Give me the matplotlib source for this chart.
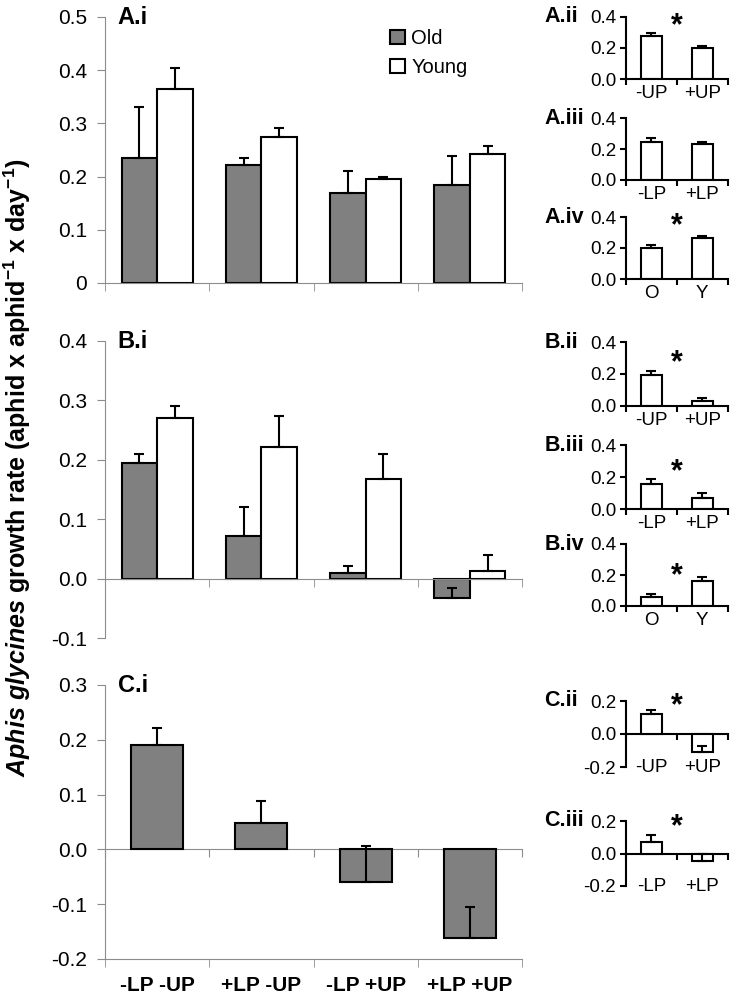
"""Aphis glycines growth rate: main treatment bars (A.i, B.i, C.i) with
small marginal-effect panels on the right."""
import matplotlib
matplotlib.use("Agg")
import matplotlib.pyplot as plt

plt.rcParams["font.family"] = ["Liberation Sans", "DejaVu Sans"]
plt.rcParams["mathtext.fontset"] = "custom"
plt.rcParams["mathtext.rm"] = "Liberation Sans:bold"
plt.rcParams["mathtext.it"] = "Liberation Sans:italic:bold"
plt.rcParams["mathtext.bf"] = "Liberation Sans:bold"
plt.rcParams["mathtext.default"] = "rm"

# ---- data ---------------------------------------------------------------
treatments = ["-LP -UP", "+LP -UP", "-LP +UP", "+LP +UP"]

a_old = [0.235, 0.221, 0.170, 0.185]
a_old_se = [0.096, 0.014, 0.040, 0.054]
a_young = [0.365, 0.274, 0.196, 0.243]
a_young_se = [0.040, 0.018, 0.004, 0.015]

b_old = [0.194, 0.072, 0.010, -0.032]
b_old_se = [0.015, 0.049, 0.012, 0.016]
b_young = [0.270, 0.222, 0.168, 0.013]
b_young_se = [0.020, 0.051, 0.041, 0.026]

c_vals = [0.191, 0.049, -0.059, -0.161]
c_se = [0.030, 0.040, 0.065, 0.055]

a_ticks = [0, 0.1, 0.2, 0.3, 0.4, 0.5]
a_ticklabels = ["0", "0.1", "0.2", "0.3", "0.4", "0.5"]
b_ticks = [-0.1, 0.0, 0.1, 0.2, 0.3, 0.4]
b_ticklabels = ["-0.1", "0.0", "0.1", "0.2", "0.3", "0.4"]
c_ticks = [-0.2, -0.1, 0.0, 0.1, 0.2, 0.3]
c_ticklabels = ["-0.2", "-0.1", "0.0", "0.1", "0.2", "0.3"]

small_pos_ticks = [0.0, 0.2, 0.4]
small_pos_labels = ["0.0", "0.2", "0.4"]
small_neg_ticks = [-0.2, 0.0, 0.2]
small_neg_labels = ["-0.2", "0.0", "0.2"]

up_cats = ["-UP", "+UP"]
lp_cats = ["-LP", "+LP"]
age_cats = ["O", "Y"]

a_ii = [0.275, 0.198];  a_ii_se = [0.020, 0.018]
a_iii = [0.245, 0.232]; a_iii_se = [0.025, 0.014]
a_iv = [0.202, 0.266];  a_iv_se = [0.020, 0.014]
b_ii = [0.192, 0.033];  b_ii_se = [0.025, 0.020]
b_iii = [0.158, 0.067]; b_iii_se = [0.030, 0.030]
b_iv = [0.055, 0.162];  b_iv_se = [0.025, 0.025]
c_ii = [0.120, -0.110]; c_ii_se = [0.025, 0.040]
c_iii = [0.070, -0.045]; c_iii_se = [0.045, 0.045]

GREY = "#808080"
AXGREY = "#8c8c8c"
ERR = dict(ecolor="black", elinewidth=1.5, capsize=3.5, capthick=1.5)


def style_main(ax, ylim, ticks, labels):
    ax.set_xlim(-0.5, len(treatments) - 0.5)
    ax.set_ylim(*ylim)
    ax.set_yticks(ticks)
    ax.set_yticklabels(labels)
    for s in ("top", "right"):
        ax.spines[s].set_visible(False)
    for s in ("left", "bottom"):
        ax.spines[s].set_color(AXGREY)
    ax.set_xticks(range(len(treatments)))
    ax.set_xticks([i - 0.5 for i in range(len(treatments) + 1)], minor=True)
    ax.tick_params(axis="x", which="major", length=0, labelbottom=False)
    ax.tick_params(axis="x", which="minor", length=6, color=AXGREY,
                   direction="out")
    ax.tick_params(axis="y", length=6, color=AXGREY, labelsize=15, pad=7)


def grouped(ax, old, old_se, young, young_se, legend=False):
    x = range(len(treatments))
    w = 0.34
    h1 = ax.bar([i - w / 2 for i in x], old, w, color=GREY, edgecolor="black",
                linewidth=1.5, yerr=[[0] * len(old), old_se], error_kw=ERR,
                label="Old")
    h2 = ax.bar([i + w / 2 for i in x], young, w, color="white",
                edgecolor="black", linewidth=1.5,
                yerr=[[0] * len(young), young_se], error_kw=ERR, label="Young")
    if legend:
        ax.legend(handles=[h1, h2], loc="upper left",
                  bbox_to_anchor=(0.664, 0.985), frameon=False, fontsize=14.5,
                  handlelength=0.75, handleheight=0.75, handletextpad=0.3,
                  labelspacing=0.5, borderaxespad=0)


def small(ax, cats, vals, se, negative, tag, star_y):
    ax.bar(range(len(cats)), vals, 0.42, color="white", edgecolor="black",
           linewidth=1.5, yerr=[[0] * len(vals), se], error_kw=ERR)
    ax.set_xlim(-0.5, len(cats) - 0.5)
    for s in ("top", "right"):
        ax.spines[s].set_visible(False)
    ax.spines["left"].set_linewidth(1.5)
    ax.set_xticks(range(len(cats)))
    ax.set_xticklabels(cats)
    bounds = [i - 0.5 for i in range(len(cats) + 1)]
    if negative:
        ax.set_ylim(-0.2, 0.2)
        ax.set_yticks(small_neg_ticks)
        ax.set_yticklabels(small_neg_labels)
        ax.spines["bottom"].set_visible(False)
        ax.tick_params(axis="x", which="major", length=0, labelsize=13.5,
                       pad=-6)
        sec = ax.secondary_xaxis(0.5)
        sec.set_alignment("bottom")
        sec.spines["bottom"].set_linewidth(1.5)
        sec.set_xticks(bounds)
        sec.tick_params(length=4, width=1.5, labelbottom=False,
                        labeltop=False)
    else:
        ax.set_ylim(0, 0.4)
        ax.set_yticks(small_pos_ticks)
        ax.set_yticklabels(small_pos_labels)
        ax.spines["bottom"].set_linewidth(1.5)
        ax.set_xticks(bounds, minor=True)
        ax.tick_params(axis="x", which="major", length=0, labelsize=13.5,
                       pad=4)
        ax.tick_params(axis="x", which="minor", length=4, width=1.5)
    ax.tick_params(axis="y", length=4, width=1.5, labelsize=13.5, pad=3)
    ax.text(-0.8, 1.0, tag, transform=ax.transAxes, ha="left", va="center",
            fontsize=15.5, fontweight="bold")
    if star_y is not None:
        ax.text(0.5, star_y, "*", ha="center", va="center",
                fontsize=22, fontweight="bold")


def main():
    fig = plt.figure(figsize=(7.38, 10), dpi=100)

    # ---- main panels ----------------------------------------------------
    ax_a = fig.add_axes([0.1423, 0.717, 0.565, 0.266])
    grouped(ax_a, a_old, a_old_se, a_young, a_young_se, legend=True)
    style_main(ax_a, (0, 0.5), a_ticks, a_ticklabels)

    ax_b = fig.add_axes([0.1423, 0.362, 0.565, 0.297])
    grouped(ax_b, b_old, b_old_se, b_young, b_young_se)
    style_main(ax_b, (-0.1, 0.4), b_ticks, b_ticklabels)
    ax_b.spines["bottom"].set_position(("data", 0))

    ax_c = fig.add_axes([0.1423, 0.041, 0.565, 0.274])
    ax_c.bar(range(len(treatments)), c_vals, 0.5, color=GREY,
             edgecolor="black", linewidth=1.5,
             yerr=[[0] * len(c_vals), c_se], error_kw=ERR)
    style_main(ax_c, (-0.2, 0.3), c_ticks, c_ticklabels)
    ax_c.set_xticklabels(treatments)
    ax_c.tick_params(axis="x", which="major", labelbottom=True, labelsize=15,
                     pad=12)
    for lab in ax_c.get_xticklabels():
        lab.set_fontweight("bold")
    zero = ax_c.secondary_xaxis(0.4)
    zero.set_alignment("bottom")
    zero.spines["bottom"].set_color(AXGREY)
    zero.set_xticks([i - 0.5 for i in range(len(treatments) + 1)])
    zero.tick_params(length=6, color=AXGREY, labelbottom=False,
                     labeltop=False)

    for ax, tag in ((ax_a, "A.i"), (ax_b, "B.i"), (ax_c, "C.i")):
        ax.text(0.03, 1.0, tag, transform=ax.transAxes, ha="left",
                va="center", fontsize=17, fontweight="bold")

    # ---- small panels ---------------------------------------------------
    L, W = 0.848, 0.138
    small(fig.add_axes([L, 0.921, W, 0.062]), up_cats, a_ii, a_ii_se,
          False, "A.ii", 0.34)
    small(fig.add_axes([L, 0.820, W, 0.062]), lp_cats, a_iii, a_iii_se,
          False, "A.iii", None)
    small(fig.add_axes([L, 0.721, W, 0.062]), age_cats, a_iv, a_iv_se,
          False, "A.iv", 0.34)
    small(fig.add_axes([L, 0.594, W, 0.064]), up_cats, b_ii, b_ii_se,
          False, "B.ii", 0.27)
    small(fig.add_axes([L, 0.491, W, 0.064]), lp_cats, b_iii, b_iii_se,
          False, "B.iii", 0.23)
    small(fig.add_axes([L, 0.394, W, 0.062]), age_cats, b_iv, b_iv_se,
          False, "B.iv", 0.19)
    small(fig.add_axes([L, 0.233, W, 0.066]), up_cats, c_ii, c_ii_se,
          True, "C.ii", 0.17)
    small(fig.add_axes([L, 0.114, W, 0.065]), lp_cats, c_iii, c_iii_se,
          True, "C.iii", 0.16)

    fig.text(0.024, 0.532,
             r"$\mathit{Aphis\ glycines}$ growth rate "
             r"(aphid x aphid$^{-1}$ x day$^{-1}$)",
             rotation=90, ha="center", va="center", fontsize=18,
             fontweight="bold")

    fig.savefig("out.png", dpi=100)


if __name__ == "__main__":
    main()
